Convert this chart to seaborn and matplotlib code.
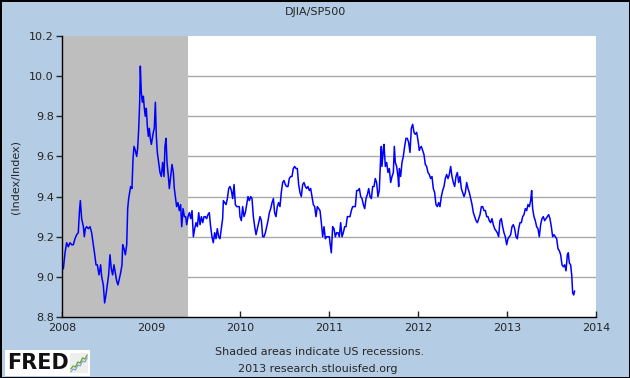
import numpy as np
import pandas as pd
import seaborn as sns
import matplotlib.pyplot as plt
from matplotlib.patches import Rectangle

# DJIA / S&P 500 ratio (decimal year, ratio)
obs_year = [
    2008.000, 2008.015, 2008.034, 2008.052, 2008.071, 2008.090, 2008.109, 2008.127, 2008.146, 2008.165,
    2008.183, 2008.195, 2008.206, 2008.221, 2008.240, 2008.251, 2008.262, 2008.277, 2008.296, 2008.315,
    2008.333, 2008.352, 2008.371, 2008.382, 2008.397, 2008.416, 2008.434, 2008.446, 2008.464, 2008.479,
    2008.494, 2008.509, 2008.524, 2008.539, 2008.554, 2008.569, 2008.584, 2008.599, 2008.614, 2008.629,
    2008.644, 2008.659, 2008.674, 2008.682, 2008.697, 2008.712, 2008.727, 2008.738, 2008.749, 2008.760,
    2008.771, 2008.786, 2008.798, 2008.809, 2008.824, 2008.839, 2008.850, 2008.861, 2008.873, 2008.880,
    2008.891, 2008.903, 2008.914, 2008.925, 2008.936, 2008.947, 2008.959, 2008.970, 2008.981, 2008.992,
    2009.004, 2009.026, 2009.037, 2009.049, 2009.060, 2009.071, 2009.086, 2009.101, 2009.116, 2009.131,
    2009.146, 2009.157, 2009.169, 2009.180, 2009.195, 2009.206, 2009.221, 2009.236, 2009.251, 2009.262,
    2009.273, 2009.288, 2009.303, 2009.318, 2009.333, 2009.345, 2009.360, 2009.375, 2009.390, 2009.401,
    2009.416, 2009.431, 2009.446, 2009.461, 2009.476, 2009.491, 2009.506, 2009.521, 2009.536, 2009.551,
    2009.566, 2009.581, 2009.596, 2009.610, 2009.625, 2009.640, 2009.655, 2009.670, 2009.685, 2009.700,
    2009.715, 2009.730, 2009.745, 2009.760, 2009.775, 2009.790, 2009.805, 2009.813, 2009.828, 2009.843,
    2009.858, 2009.873, 2009.888, 2009.903, 2009.918, 2009.933, 2009.948, 2009.963, 2009.978, 2009.992,
    2010.000, 2010.015, 2010.030, 2010.045, 2010.060, 2010.075, 2010.090, 2010.105, 2010.120, 2010.135,
    2010.150, 2010.165, 2010.180, 2010.195, 2010.210, 2010.225, 2010.240, 2010.255, 2010.270, 2010.285,
    2010.300, 2010.315, 2010.330, 2010.345, 2010.360, 2010.375, 2010.389, 2010.404, 2010.419, 2010.434,
    2010.449, 2010.464, 2010.479, 2010.494, 2010.509, 2010.524, 2010.539, 2010.554, 2010.569, 2010.584,
    2010.599, 2010.614, 2010.629, 2010.644, 2010.659, 2010.674, 2010.689, 2010.704, 2010.719, 2010.734,
    2010.749, 2010.764, 2010.779, 2010.794, 2010.809, 2010.824, 2010.839, 2010.854, 2010.869, 2010.884,
    2010.899, 2010.914, 2010.929, 2010.944, 2010.959, 2010.974, 2010.989, 2011.004,
    2011.011, 2011.026, 2011.041, 2011.056, 2011.071, 2011.086, 2011.101, 2011.116, 2011.131, 2011.146,
    2011.161, 2011.176, 2011.191, 2011.206, 2011.221, 2011.236, 2011.251, 2011.266, 2011.281, 2011.296,
    2011.311, 2011.326, 2011.341, 2011.356, 2011.371, 2011.386, 2011.401, 2011.416, 2011.431, 2011.446,
    2011.461, 2011.476, 2011.491, 2011.506, 2011.520, 2011.535, 2011.550, 2011.565, 2011.580, 2011.588,
    2011.595, 2011.610, 2011.618, 2011.633, 2011.648, 2011.663, 2011.678, 2011.693, 2011.708, 2011.723,
    2011.734, 2011.745, 2011.760, 2011.775, 2011.783, 2011.790, 2011.805, 2011.820, 2011.835, 2011.850,
    2011.865, 2011.880, 2011.895, 2011.910, 2011.925, 2011.940, 2011.955, 2011.970, 2011.985, 2012.000,
    2012.015,
    2012.022, 2012.037, 2012.052, 2012.067, 2012.082, 2012.097, 2012.112, 2012.127, 2012.142, 2012.157,
    2012.172, 2012.187, 2012.202, 2012.217, 2012.232, 2012.247, 2012.262, 2012.277, 2012.292, 2012.307,
    2012.322, 2012.337, 2012.352, 2012.367, 2012.382, 2012.397, 2012.412, 2012.427, 2012.442, 2012.457,
    2012.472, 2012.487, 2012.502, 2012.517, 2012.532, 2012.547, 2012.562, 2012.577, 2012.592, 2012.607,
    2012.622, 2012.637, 2012.652, 2012.667, 2012.682, 2012.697, 2012.712, 2012.727, 2012.742, 2012.757,
    2012.772, 2012.786, 2012.801, 2012.816, 2012.831, 2012.846, 2012.861, 2012.876, 2012.891, 2012.906,
    2012.921, 2012.936, 2012.951, 2012.966, 2012.981, 2012.996,
    2013.011, 2013.026, 2013.041, 2013.056, 2013.071, 2013.086, 2013.101, 2013.116, 2013.131, 2013.146,
    2013.161, 2013.176, 2013.191, 2013.206, 2013.221, 2013.236, 2013.251, 2013.266, 2013.277, 2013.288,
    2013.303, 2013.318, 2013.333, 2013.348, 2013.363, 2013.378, 2013.393, 2013.408, 2013.423, 2013.438,
    2013.453, 2013.468, 2013.483, 2013.498, 2013.513, 2013.528, 2013.543, 2013.558, 2013.573, 2013.588,
    2013.603, 2013.618, 2013.633, 2013.648, 2013.663, 2013.678, 2013.689, 2013.700, 2013.715, 2013.727,
    2013.738, 2013.749, 2013.760,
]
ratio = [
    9.06, 9.04, 9.12, 9.17, 9.15, 9.17, 9.16, 9.16, 9.19, 9.21,
    9.22, 9.32, 9.38, 9.29, 9.25, 9.20, 9.24, 9.25, 9.24, 9.25,
    9.22, 9.16, 9.10, 9.06, 9.06, 9.01, 9.06, 9.00, 8.96, 8.87,
    8.91, 8.96, 9.01, 9.11, 9.04, 9.01, 9.06, 9.02, 8.98, 8.96,
    8.99, 9.02, 9.06, 9.16, 9.14, 9.11, 9.16, 9.34, 9.39, 9.42,
    9.45, 9.44, 9.59, 9.65, 9.63, 9.60, 9.64, 9.73, 9.87, 10.05,
    9.92, 9.87, 9.90, 9.84, 9.80, 9.84, 9.75, 9.70, 9.74, 9.69,
    9.66, 9.72, 9.74, 9.87, 9.70, 9.62, 9.57, 9.52, 9.50, 9.57,
    9.50, 9.65, 9.69, 9.57, 9.50, 9.44, 9.50, 9.56, 9.52, 9.44,
    9.40, 9.35, 9.37, 9.33, 9.36, 9.25, 9.34, 9.30, 9.30, 9.26,
    9.30, 9.32, 9.29, 9.33, 9.20, 9.24, 9.27, 9.25, 9.32, 9.26,
    9.30, 9.27, 9.30, 9.30, 9.29, 9.31, 9.32, 9.25, 9.20, 9.17,
    9.22, 9.19, 9.24, 9.20, 9.19, 9.24, 9.29, 9.38, 9.37, 9.36,
    9.39, 9.44, 9.45, 9.43, 9.39, 9.46, 9.36, 9.35, 9.35, 9.35,
    9.30, 9.28, 9.35, 9.30, 9.32, 9.36, 9.40, 9.38, 9.40, 9.39,
    9.30, 9.25, 9.21, 9.24, 9.27, 9.30, 9.28, 9.20, 9.20, 9.22,
    9.25, 9.28, 9.32, 9.34, 9.37, 9.39, 9.32, 9.30, 9.35, 9.37,
    9.35, 9.42, 9.47, 9.48, 9.46, 9.45, 9.45, 9.49, 9.50, 9.50,
    9.54, 9.55, 9.54, 9.54, 9.46, 9.42, 9.40, 9.46, 9.47, 9.45,
    9.44, 9.45, 9.43, 9.44, 9.40, 9.36, 9.35, 9.30, 9.35, 9.34,
    9.33, 9.27, 9.20, 9.25, 9.19, 9.20, 9.20, 9.20,
    9.17, 9.12, 9.25, 9.24, 9.20, 9.22, 9.22, 9.20, 9.27, 9.20,
    9.22, 9.25, 9.25, 9.30, 9.30, 9.30, 9.33, 9.35, 9.35, 9.35,
    9.43, 9.43, 9.44, 9.40, 9.39, 9.36, 9.34, 9.39, 9.41, 9.44,
    9.40, 9.39, 9.45, 9.45, 9.49, 9.47, 9.40, 9.43, 9.59, 9.65,
    9.55, 9.63, 9.66, 9.55, 9.57, 9.52, 9.54, 9.47, 9.50, 9.52,
    9.65, 9.57, 9.55, 9.50, 9.45, 9.54, 9.50, 9.57, 9.60, 9.65,
    9.69, 9.69, 9.67, 9.62, 9.74, 9.76, 9.72, 9.71, 9.72, 9.68,
    9.63,
    9.64, 9.65, 9.63, 9.61, 9.56, 9.55, 9.52, 9.51, 9.49, 9.50,
    9.44, 9.42, 9.36, 9.35, 9.37, 9.35, 9.40, 9.43, 9.45, 9.49,
    9.51, 9.49, 9.51, 9.55, 9.50, 9.47, 9.45, 9.50, 9.52, 9.47,
    9.50, 9.44, 9.42, 9.40, 9.42, 9.47, 9.44, 9.42, 9.39, 9.36,
    9.32, 9.30, 9.28, 9.27, 9.29, 9.31, 9.35, 9.35, 9.33, 9.33,
    9.30, 9.30, 9.28, 9.27, 9.29, 9.26, 9.24, 9.23, 9.22, 9.20,
    9.28, 9.29, 9.25, 9.22, 9.20, 9.16,
    9.19, 9.20, 9.21, 9.25, 9.26, 9.24, 9.20, 9.19, 9.24, 9.27,
    9.27, 9.30, 9.31, 9.34, 9.33, 9.36, 9.35, 9.38, 9.43, 9.34,
    9.30, 9.28, 9.25, 9.24, 9.20, 9.26, 9.29, 9.30, 9.28, 9.29,
    9.30, 9.31, 9.29, 9.25, 9.20, 9.21, 9.20, 9.19, 9.14, 9.13,
    9.11, 9.06, 9.05, 9.06, 9.03, 9.11, 9.12, 9.07, 9.06, 9.01,
    8.92, 8.91, 8.93,
]

recession_start = 2008.0
recession_end = 2009.416

year_ticks = [2008, 2009, 2010, 2011, 2012, 2013, 2014]
ratio_ticks = [8.8, 9.0, 9.2, 9.4, 9.6, 9.8, 10.0, 10.2]

# tiny line for the FRED logo icon
logo_line = [0.2, 0.35, 0.3, 0.55, 0.5, 0.75, 0.7, 0.9]

data = pd.DataFrame({'year': obs_year, 'ratio': ratio})

fred_blue = '#B4CCE4'
sns.set_style('white')
plt.rcParams['font.family'] = ['DejaVu Sans']

fig = plt.figure(figsize=(6.3, 3.78), dpi=100, facecolor=fred_blue,
                 edgecolor='black', linewidth=2)
ax = fig.add_axes([62 / 630, 1 - 317 / 378, (596 - 62) / 630, (317 - 36) / 378])
ax.set_facecolor('white')

# gridlines first, recession shading covers them
for t in ratio_ticks[1:-1]:
    ax.axhline(t, color='#AAAAAA', lw=1, zorder=1)
ax.axvspan(recession_start, recession_end, color='#BEBEBE', lw=0, zorder=2)

sns.lineplot(data=data, x='year', y='ratio', ax=ax, color='#0000FF', lw=1.1,
             estimator=None, sort=False, zorder=3)

ax.set_xlim(2008, 2014)
ax.set_ylim(8.8, 10.2)
ax.set_xticks(year_ticks)
ax.set_xticklabels([str(y) for y in year_ticks], fontsize=8)
ax.set_yticks(ratio_ticks)
ax.set_yticklabels(['%.1f' % t for t in ratio_ticks], fontsize=8)
ax.set_xlabel('')
ax.set_ylabel('(Index/Index)', fontsize=8, labelpad=6)

for side in ['top', 'right']:
    ax.spines[side].set_visible(False)
for side in ['left', 'bottom']:
    ax.spines[side].set_color('black')
    ax.spines[side].set_linewidth(1)
    ax.spines[side].set_zorder(4)
ax.tick_params(axis='y', direction='out', length=4, width=1, left=True, pad=2)
ax.tick_params(axis='x', direction='in', length=4, width=1, bottom=True, pad=4)

fig.text(0.5, 1 - 12 / 378, 'DJIA/SP500', ha='center', va='center', fontsize=8)
fig.text(0.508, 1 - 352 / 378, 'Shaded areas indicate US recessions.',
         ha='center', va='center', fontsize=8)
fig.text(0.505, 1 - 369 / 378, '2013 research.stlouisfed.org',
         ha='center', va='center', fontsize=8)

# FRED logo
fig.patches.append(Rectangle((5 / 630, 1 - 376 / 378), 85 / 630, 26 / 378,
                             transform=fig.transFigure, facecolor='white',
                             edgecolor='none', zorder=1))
fig.text(7 / 630, 1 - 363 / 378, 'FRED', ha='left', va='center', fontsize=15,
         fontweight='bold', color='#111111', zorder=3)
icon = fig.add_axes([70 / 630, 1 - 373 / 378, 18 / 630, 20 / 378])
icon.set_zorder(5)
icon.plot(logo_line, color='#6AAA3A', lw=1)
icon.plot([v - 0.15 for v in logo_line], color='#7A9CC8', lw=0.8)
icon.set_ylim(0, 1)
icon.set_xticks([])
icon.set_yticks([])
icon.set_facecolor('#EEEEEE')
for s in icon.spines.values():
    s.set_visible(False)

fig.savefig('out.png', dpi=100, facecolor=fig.get_facecolor(),
            edgecolor=fig.get_edgecolor())
